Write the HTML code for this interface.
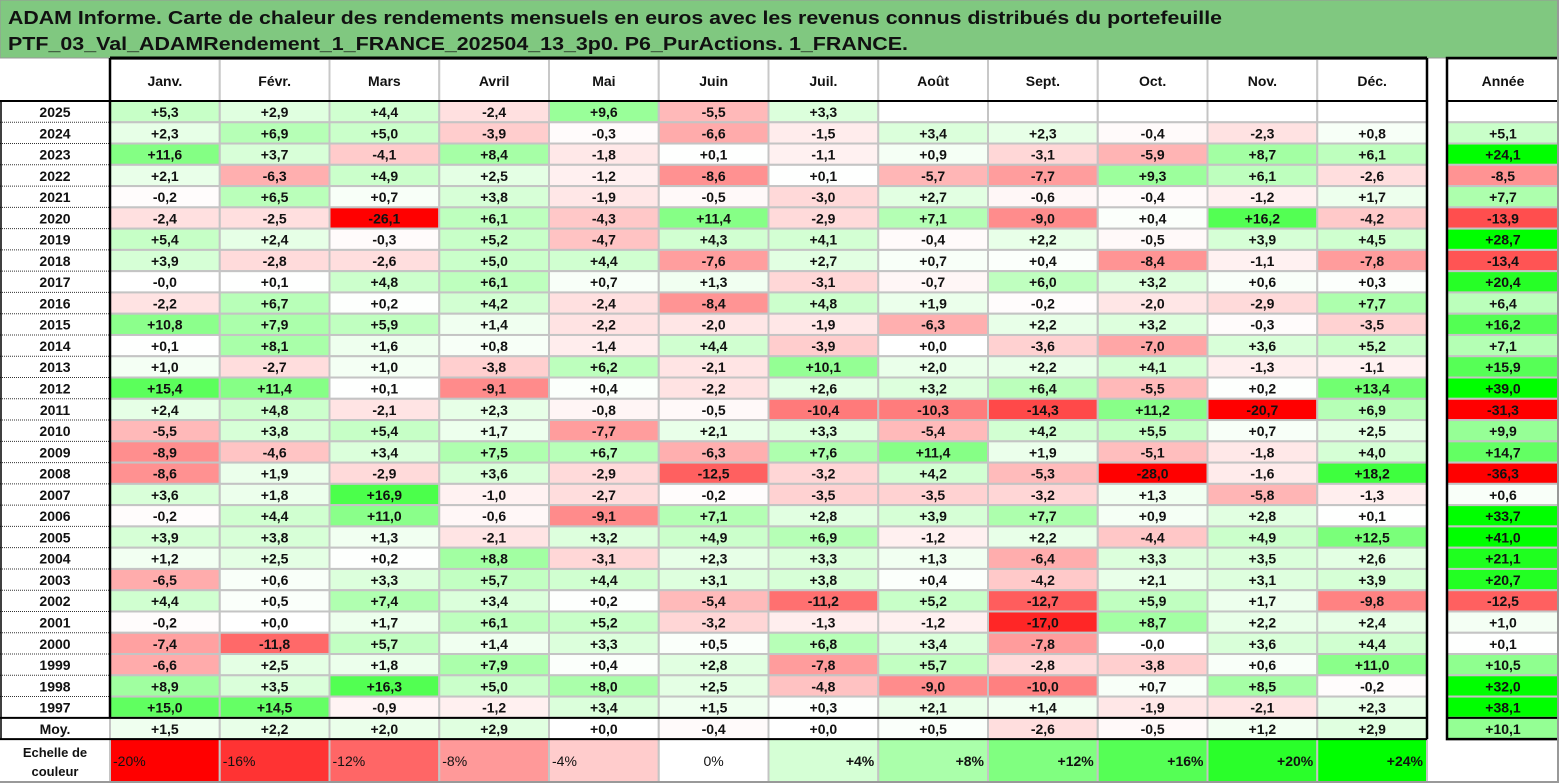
<!DOCTYPE html>
<html><head><meta charset="utf-8"><style>
html,body{margin:0;padding:0;background:#fff;}
svg{display:block;font-family:"Liberation Sans",sans-serif;}
</style></head><body>
<svg id="chart" width="1559" height="783" viewBox="0 0 1559 783" xmlns="http://www.w3.org/2000/svg">
<rect x="0" y="0" width="1559" height="58" fill="#80c880" stroke="#999" stroke-width="1"/>
<text x="8" y="24" font-size="18" font-weight="bold" fill="#111" textLength="1214" lengthAdjust="spacingAndGlyphs">ADAM Informe. Carte de chaleur des rendements mensuels en euros avec les revenus connus distribués du portefeuille</text>
<text x="8" y="50" font-size="18" font-weight="bold" fill="#111" textLength="900" lengthAdjust="spacingAndGlyphs">PTF_03_Val_ADAMRendement_1_FRANCE_202504_13_3p0. P6_PurActions. 1_FRANCE.</text>
<g id="grid"></g>
</svg>
<script>
const months = ["Janv.","Févr.","Mars","Avril","Mai","Juin","Juil.","Août","Sept.","Oct.","Nov.","Déc."];
const rowLabels = ["2025","2024","2023","2022","2021","2020","2019","2018","2017","2016","2015","2014","2013","2012","2011","2010","2009","2008","2007","2006","2005","2004","2003","2002","2001","2000","1999","1998","1997","Moy."];
const monthly = [
[5.3,2.9,4.4,-2.4,9.6,-5.5,3.3,null,null,null,null,null],
[2.3,6.9,5.0,-3.9,-0.3,-6.6,-1.5,3.4,2.3,-0.4,-2.3,0.8],
[11.6,3.7,-4.1,8.4,-1.8,0.1,-1.1,0.9,-3.1,-5.9,8.7,6.1],
[2.1,-6.3,4.9,2.5,-1.2,-8.6,0.1,-5.7,-7.7,9.3,6.1,-2.6],
[-0.2,6.5,0.7,3.8,-1.9,-0.5,-3.0,2.7,-0.6,-0.4,-1.2,1.7],
[-2.4,-2.5,-26.1,6.1,-4.3,11.4,-2.9,7.1,-9.0,0.4,16.2,-4.2],
[5.4,2.4,-0.3,5.2,-4.7,4.3,4.1,-0.4,2.2,-0.5,3.9,4.5],
[3.9,-2.8,-2.6,5.0,4.4,-7.6,2.7,0.7,0.4,-8.4,-1.1,-7.8],
[-0.0,0.1,4.8,6.1,0.7,1.3,-3.1,-0.7,6.0,3.2,0.6,0.3],
[-2.2,6.7,0.2,4.2,-2.4,-8.4,4.8,1.9,-0.2,-2.0,-2.9,7.7],
[10.8,7.9,5.9,1.4,-2.2,-2.0,-1.9,-6.3,2.2,3.2,-0.3,-3.5],
[0.1,8.1,1.6,0.8,-1.4,4.4,-3.9,0.0,-3.6,-7.0,3.6,5.2],
[1.0,-2.7,1.0,-3.8,6.2,-2.1,10.1,2.0,2.2,4.1,-1.3,-1.1],
[15.4,11.4,0.1,-9.1,0.4,-2.2,2.6,3.2,6.4,-5.5,0.2,13.4],
[2.4,4.8,-2.1,2.3,-0.8,-0.5,-10.4,-10.3,-14.3,11.2,-20.7,6.9],
[-5.5,3.8,5.4,1.7,-7.7,2.1,3.3,-5.4,4.2,5.5,0.7,2.5],
[-8.9,-4.6,3.4,7.5,6.7,-6.3,7.6,11.4,1.9,-5.1,-1.8,4.0],
[-8.6,1.9,-2.9,3.6,-2.9,-12.5,-3.2,4.2,-5.3,-28.0,-1.6,18.2],
[3.6,1.8,16.9,-1.0,-2.7,-0.2,-3.5,-3.5,-3.2,1.3,-5.8,-1.3],
[-0.2,4.4,11.0,-0.6,-9.1,7.1,2.8,3.9,7.7,0.9,2.8,0.1],
[3.9,3.8,1.3,-2.1,3.2,4.9,6.9,-1.2,2.2,-4.4,4.9,12.5],
[1.2,2.5,0.2,8.8,-3.1,2.3,3.3,1.3,-6.4,3.3,3.5,2.6],
[-6.5,0.6,3.3,5.7,4.4,3.1,3.8,0.4,-4.2,2.1,3.1,3.9],
[4.4,0.5,7.4,3.4,0.2,-5.4,-11.2,5.2,-12.7,5.9,1.7,-9.8],
[-0.2,0.0,1.7,6.1,5.2,-3.2,-1.3,-1.2,-17.0,8.7,2.2,2.4],
[-7.4,-11.8,5.7,1.4,3.3,0.5,6.8,3.4,-7.8,-0.0,3.6,4.4],
[-6.6,2.5,1.8,7.9,0.4,2.8,-7.8,5.7,-2.8,-3.8,0.6,11.0],
[8.9,3.5,16.3,5.0,8.0,2.5,-4.8,-9.0,-10.0,0.7,8.5,-0.2],
[15.0,14.5,-0.9,-1.2,3.4,1.5,0.3,2.1,1.4,-1.9,-2.1,2.3],
[1.5,2.2,2.0,2.9,0.0,-0.4,0.0,0.5,-2.6,-0.5,1.2,2.9]
];
const yearly = [null,5.1,24.1,-8.5,7.7,-13.9,28.7,-13.4,20.4,6.4,16.2,7.1,15.9,39.0,-31.3,9.9,14.7,-36.3,0.6,33.7,41.0,21.1,20.7,-12.5,1.0,0.1,10.5,32.0,38.1,10.1];
const scaleSteps = [-20,-16,-12,-8,-4,0,4,8,12,16,20,24];

const NS="http://www.w3.org/2000/svg";
const g=document.getElementById('grid');
const X0=110, CW=109.75, YX=1447, YW=112, HY=59, HH=42, RY=101, RH=21.27, SY=739;
function colX(i){return X0+i*CW;}
function rowY(r){return RY+r*RH;}
function color(v){
  if(v===null) return "#ffffff";
  let t;
  if(v>=0){t=Math.min(1,v/24);const c=Math.round(255*(1-t));return `rgb(${c},255,${c})`;}
  t=Math.min(1,-v/20);const c=Math.round(255*(1-t));return `rgb(255,${c},${c})`;
}
function fmt(v){
  const neg = v<0 || Object.is(v,-0);
  return (neg?"-":"+")+Math.abs(v).toFixed(1).replace('.',',');
}
function rect(x,y,w,h,fill,stroke,sw){
  const r=document.createElementNS(NS,'rect');
  r.setAttribute('x',x);r.setAttribute('y',y);r.setAttribute('width',w);r.setAttribute('height',h);
  r.setAttribute('fill',fill);if(stroke){r.setAttribute('stroke',stroke);r.setAttribute('stroke-width',sw||1);}
  g.appendChild(r);return r;
}
function text(x,y,s,anchor,size,weight){
  const t=document.createElementNS(NS,'text');
  t.setAttribute('x',x);t.setAttribute('y',y);t.setAttribute('text-anchor',anchor||'middle');
  t.setAttribute('font-size',size||14);t.setAttribute('font-weight',weight||'bold');t.setAttribute('fill','#111');
  t.textContent=s;g.appendChild(t);return t;
}
function line(x1,y1,x2,y2,stroke,sw,dash){
  const l=document.createElementNS(NS,'line');
  l.setAttribute('x1',x1);l.setAttribute('y1',y1);l.setAttribute('x2',x2);l.setAttribute('y2',y2);
  l.setAttribute('stroke',stroke);l.setAttribute('stroke-width',sw);if(dash)l.setAttribute('stroke-dasharray',dash);
  g.appendChild(l);return l;
}
// header
months.forEach((m,i)=>{
  const r=rect(colX(i),HY,CW,HH,'#fff','#c8c8c8',2);
  
  
  const t=text(colX(i)+CW/2,HY+27,m,'middle',14);
  
  
});
const yh=rect(YX,HY,YW,HH,'#fff','#c8c8c8',2);


const yht=text(YX+YW/2,HY+27,'Année','middle',14);


// rows
rowLabels.forEach((lab,r)=>{
  const y=rowY(r);
  const lt=text(55,y+16,lab,'middle',14);
  
  
  monthly[r].forEach((v,i)=>{
    const c=rect(colX(i),y,CW,RH,color(v),'#c4c4c4',2);
    
    
    if(v!==null){
      const t=text(colX(i)+CW/2,y+16,fmt(v),'middle',14);
      
      
    }
  });
  const v=yearly[r];
  const c=rect(YX,y,YW,RH,color(v),'#c4c4c4',2);
  
  
  if(v!==null){
    const t=text(YX+YW/2,y+16,fmt(v),'middle',14);
    
    
  }
  if(r<rowLabels.length-2) line(0,y+RH,X0,y+RH,'#333',1,'1,1');
});
// scale row
const sl1=text(55,SY+18,'Echelle de','middle',13,'bold');


const sl2=text(55,SY+37,'couleur','middle',13,'bold');


scaleSteps.forEach((s,i)=>{
  const c=rect(colX(i),SY,CW,44,color(s),'#c4c4c4',2);
  
  
  const lbl=(s>0?'+':'')+s+'%';
  let t;
  if(s<0) t=text(colX(i)+3,SY+27,lbl,'start',14,'normal');
  else if(s===0) t=text(colX(i)+CW/2,SY+27,lbl,'middle',14,'normal');
  else t=text(colX(i)+CW-4,SY+27,lbl,'end',14,'bold');
  
  
});
// thick borders
line(X0,HY-1,X0+12*CW,HY-1,'#000',3);
line(X0,HY-1,X0,RY+29*RH,'#000',2.5);
line(X0+12*CW,HY-1,X0+12*CW,RY+30*RH,'#000',2.5);
line(0,RY,X0+12*CW,RY,'#000',2);
line(0,RY+29*RH,X0+12*CW,RY+29*RH,'#000',2);
line(0,RY+30*RH,X0+12*CW,RY+30*RH,'#000',2);
line(1,RY,1,RY+30*RH,'#000',1.5);
const yb=rect(YX,HY-1,YW,30*RH+HH+1,'none','#000',2.5);
line(YX,RY,YX+YW,RY,'#000',2);
line(YX,RY+29*RH,YX+YW,RY+29*RH,'#000',2);
line(0,782,1559,782,'#999',2);
line(1558,0,1558,783,'#999',2);
</script>
</body></html>
